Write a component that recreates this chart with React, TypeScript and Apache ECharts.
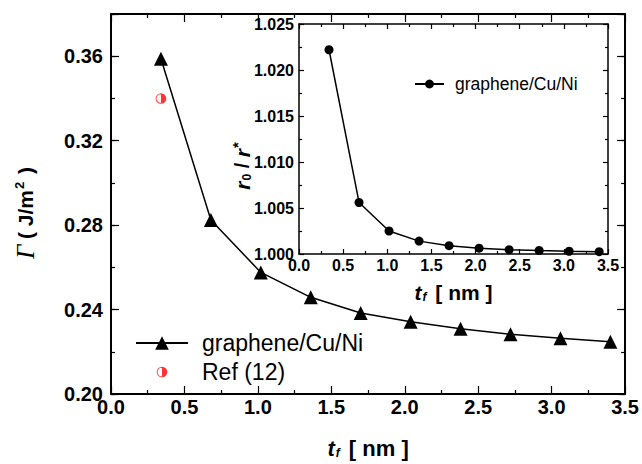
import React, { useEffect, useRef } from 'react';
import * as echarts from 'echarts';

// ---- data ----
const thickness = [0.34, 0.68, 1.02, 1.36, 1.7, 2.04, 2.38, 2.72, 3.06, 3.4];
const gammaValues = [0.3588, 0.2824, 0.2576, 0.2458, 0.2384, 0.2342, 0.2309, 0.2283, 0.2264, 0.2247];
const refThickness = [0.34];
const refGamma = [0.34];
const ratioValues = [1.0222, 1.0056, 1.0025, 1.0014, 1.0009, 1.00063, 1.00047, 1.00038, 1.0003, 1.00025];

const mainSeriesName = 'graphene/Cu/Ni';
const refSeriesName = 'Ref (12)';
const insetSeriesName = 'graphene/Cu/Ni (inset)';
const insetLegendLabel = 'graphene/Cu/Ni';

const xRange = { min: 0, max: 3.5, interval: 0.5 };
const mainYRange = { min: 0.2, max: 0.38, interval: 0.04, minorInterval: 0.02 };
const insetYRange = { min: 1.0, max: 1.025, interval: 0.005 };

const FONT = "'Liberation Sans', Arial, Helvetica, sans-serif";
const BLACK = '#000';

const halfCirclePath =
  'path://M-6,-6 L-6,-6 Z M26,26 L26,26 Z ' +
  'M10,0 A10,10 0 0,0 10,20 L10,18.4 A8.4,8.4 0 0,1 10,1.6 Z ' +
  'M10,0 A10,10 0 0,1 10,20 Z';

function xAxisDef(grid: number, pos: 'top' | 'bottom', main: boolean, extra: any = {}) {
  return {
    type: 'value',
    gridIndex: grid,
    position: pos,
    min: xRange.min,
    max: xRange.max,
    interval: xRange.interval,
    axisLine: { show: true, onZero: false, lineStyle: { color: BLACK, width: main ? 2 : 1.5 } },
    axisTick: { show: true, inside: true, length: main ? 8 : 5, lineStyle: { color: BLACK, width: 1.2 } },
    minorTick: { show: true, splitNumber: 2, length: main ? 4 : 3, lineStyle: { color: BLACK, width: 1.2 } },
    splitLine: { show: false },
    minorSplitLine: { show: false },
    axisLabel: {
      show: pos === 'bottom',
      margin: 3,
      color: BLACK,
      fontFamily: FONT,
      fontWeight: 'bold',
      fontSize: main ? 20 : 16,
      formatter: (v: number) => v.toFixed(1),
    },
    ...extra,
  };
}

const axisTitleRich = (size: number) => ({
  t: { fontFamily: FONT, fontWeight: 'bold', fontStyle: 'italic', fontSize: size, color: BLACK },
  f: { fontFamily: FONT, fontWeight: 'bold', fontStyle: 'italic', fontSize: Math.round(size * 0.55), color: BLACK, padding: [9, 3, 0, 1] },
  n: { fontFamily: FONT, fontWeight: 'bold', fontSize: size, color: BLACK },
});

export default function App() {
  const ref = useRef<HTMLDivElement>(null);

  useEffect(() => {
    if (!ref.current) return;
    const chart = echarts.init(ref.current, undefined, { renderer: 'svg' });

    const option: any = {
      animation: false,
      backgroundColor: '#fff',
      grid: [
        { left: 111, top: 14, width: 516, height: 380, containLabel: false },
        { left: 299, top: 24, width: 309, height: 230, containLabel: false, show: true, backgroundColor: '#fff', borderWidth: 0 },
      ],
      xAxis: [
        xAxisDef(0, 'bottom', true, {
          name: '{t|t}{f|f}{n| [ nm ]}',
          nameLocation: 'middle',
          nameGap: 43,
          nameTextStyle: { rich: axisTitleRich(22) },
        }),
        xAxisDef(0, 'top', true),
        xAxisDef(1, 'bottom', false, {
          name: '{t|t}{f|f}{n| [ nm ]}',
          nameLocation: 'middle',
          nameGap: 28,
          nameTextStyle: { rich: axisTitleRich(21) },
        }),
        xAxisDef(1, 'top', false),
      ],
      yAxis: [
        // main left, major
        {
          type: 'value', gridIndex: 0, position: 'left',
          min: mainYRange.min, max: mainYRange.max, interval: mainYRange.interval,
          axisLine: { show: true, onZero: false, lineStyle: { color: BLACK, width: 2 } },
          axisTick: { show: true, inside: true, length: 8, lineStyle: { color: BLACK, width: 1.2 } },
          splitLine: { show: false },
          axisLabel: {
            margin: 8, color: BLACK, fontFamily: FONT, fontWeight: 'bold', fontSize: 20,
            formatter: (v: number) => (v > mainYRange.max - 0.001 ? '' : v.toFixed(2)),
          },
        },
        // main left, minor
        {
          type: 'value', gridIndex: 0, position: 'left',
          min: mainYRange.min, max: mainYRange.max, interval: mainYRange.minorInterval,
          axisLine: { show: false, onZero: false },
          axisTick: { show: true, inside: true, length: 4, lineStyle: { color: BLACK, width: 1.2 } },
          splitLine: { show: false },
          axisLabel: { show: false },
        },
        // main right, major
        {
          type: 'value', gridIndex: 0, position: 'right',
          min: mainYRange.min, max: mainYRange.max, interval: mainYRange.interval,
          axisLine: { show: true, onZero: false, lineStyle: { color: BLACK, width: 2 } },
          axisTick: { show: true, inside: true, length: 8, lineStyle: { color: BLACK, width: 1.2 } },
          splitLine: { show: false },
          axisLabel: { show: false },
        },
        // main right, minor
        {
          type: 'value', gridIndex: 0, position: 'right',
          min: mainYRange.min, max: mainYRange.max, interval: mainYRange.minorInterval,
          axisLine: { show: false, onZero: false },
          axisTick: { show: true, inside: true, length: 4, lineStyle: { color: BLACK, width: 1.2 } },
          splitLine: { show: false },
          axisLabel: { show: false },
        },
        // inset left
        {
          type: 'value', gridIndex: 1, position: 'left',
          min: insetYRange.min, max: insetYRange.max, interval: insetYRange.interval,
          axisLine: { show: true, onZero: false, lineStyle: { color: BLACK, width: 1.5 } },
          axisTick: { show: true, inside: true, length: 5, lineStyle: { color: BLACK, width: 1.2 } },
          minorTick: { show: true, splitNumber: 2, length: 3, lineStyle: { color: BLACK, width: 1.2 } },
          splitLine: { show: false },
          minorSplitLine: { show: false },
          axisLabel: {
            margin: 5, color: BLACK, fontFamily: FONT, fontWeight: 'bold', fontSize: 16,
            formatter: (v: number) => v.toFixed(3),
          },
        },
        // inset right
        {
          type: 'value', gridIndex: 1, position: 'right',
          min: insetYRange.min, max: insetYRange.max, interval: insetYRange.interval,
          axisLine: { show: true, onZero: false, lineStyle: { color: BLACK, width: 1.5 } },
          axisTick: { show: true, inside: true, length: 5, lineStyle: { color: BLACK, width: 1.2 } },
          minorTick: { show: true, splitNumber: 2, length: 3, lineStyle: { color: BLACK, width: 1.2 } },
          splitLine: { show: false },
          minorSplitLine: { show: false },
          axisLabel: { show: false },
        },
      ],
      legend: [
        {
          data: [mainSeriesName, refSeriesName],
          orient: 'vertical',
          left: 135,
          top: 331.5,
          padding: 0,
          itemWidth: 52,
          itemHeight: 17,
          itemGap: 6,
          selectedMode: false,
          textStyle: { color: BLACK, fontFamily: FONT, fontSize: 23, lineHeight: 23, padding: [0, 0, 0, 9] },
        },
        {
          data: [insetSeriesName],
          orient: 'vertical',
          left: 414,
          top: 75,
          padding: 0,
          itemWidth: 29,
          itemHeight: 11,
          selectedMode: false,
          formatter: () => insetLegendLabel,
          textStyle: { color: BLACK, fontFamily: FONT, fontSize: 17.5, lineHeight: 18, padding: [0, 0, 0, 6] },
        },
      ],
      series: [
        {
          type: 'line',
          name: mainSeriesName,
          xAxisIndex: 0,
          yAxisIndex: 0,
          data: thickness.map((x, i) => [x, gammaValues[i]]),
          symbol: 'triangle',
          symbolSize: 14,
          itemStyle: { color: BLACK },
          lineStyle: { color: BLACK, width: 1.5 },
          z: 3,
        },
        {
          type: 'scatter',
          name: refSeriesName,
          xAxisIndex: 0,
          yAxisIndex: 0,
          data: refThickness.map((x, i) => [x, refGamma[i]]),
          symbol: halfCirclePath,
          symbolSize: 17,
          symbolKeepAspect: true,
          itemStyle: { color: '#ff0000', borderWidth: 0 },
          z: 3,
        },
        {
          type: 'line',
          name: insetSeriesName,
          xAxisIndex: 2,
          yAxisIndex: 4,
          data: thickness.map((x, i) => [x, ratioValues[i]]),
          symbol: 'circle',
          symbolSize: 9,
          itemStyle: { color: BLACK },
          lineStyle: { color: BLACK, width: 1.5 },
          z: 3,
        },
      ],
      graphic: [
        {
          type: 'text',
          x: 25,
          y: 213,
          rotation: Math.PI / 2,
          style: {
            text: '{g|Γ}{n| ( J/m}{sup|2}{n| )}',
            align: 'center',
            verticalAlign: 'middle',
            fill: BLACK,
            rich: {
              g: { fontFamily: "'Liberation Serif', 'Times New Roman', serif", fontStyle: 'italic', fontSize: 25, fill: BLACK },
              n: { fontFamily: FONT, fontWeight: 'bold', fontSize: 21, fill: BLACK },
              sup: { fontFamily: FONT, fontWeight: 'bold', fontSize: 13, fill: BLACK, padding: [0, 2, 11, 1] },
            },
          },
        },
        {
          type: 'text',
          x: 242,
          y: 166,
          rotation: Math.PI / 2,
          style: {
            text: '{r|r}{sub|0}{n| / }{r|r}{sup|*}',
            align: 'center',
            verticalAlign: 'middle',
            fill: BLACK,
            rich: {
              r: { fontFamily: FONT, fontWeight: 'bold', fontStyle: 'italic', fontSize: 21, fill: BLACK },
              n: { fontFamily: FONT, fontWeight: 'bold', fontSize: 20, fill: BLACK },
              sub: { fontFamily: FONT, fontWeight: 'bold', fontSize: 12, fill: BLACK, padding: [9, 0, 0, 1] },
              sup: { fontFamily: FONT, fontWeight: 'bold', fontSize: 15, fill: BLACK, padding: [0, 0, 9, 1] },
            },
          },
        },
      ],
    };

    chart.setOption(option);
    return () => chart.dispose();
  }, []);

  return (
    <div
      ref={ref}
      style={{ position: 'fixed', left: 0, top: 0, width: 642, height: 464, background: '#fff' }}
    />
  );
}
